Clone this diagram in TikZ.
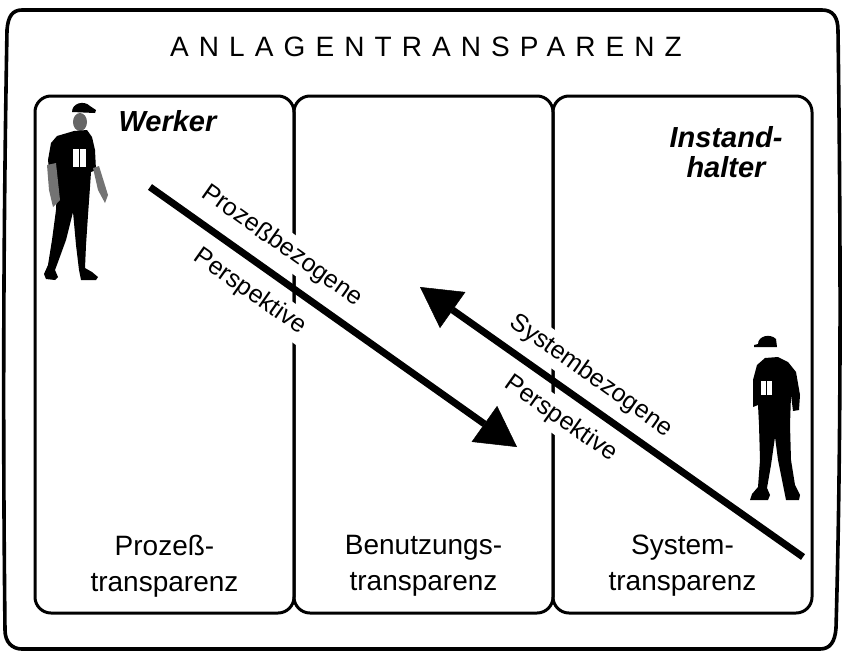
\documentclass[tikz,border=0pt]{standalone}
\usepackage{fontspec}
\setmainfont{Liberation Sans}
\newfontfamily\spacedfont[LetterSpace=36]{Liberation Sans}
\usetikzlibrary{arrows.meta}

\begin{document}
\begin{tikzpicture}[x=1pt, y=-1pt,
    frame/.style={line width=3.6pt, line join=round},
    panel/.style={line width=3pt, rounded corners=16pt},
    persp/.style={line width=7pt, -{Triangle[length=40pt, width=44pt, line width=0.5pt]}},
    lbl/.style={font=\fontsize{28}{36}\selectfont, align=center},
    slant/.style={font=\fontsize{25}{28}\selectfont, rotate=-35.3, fill=white, inner sep=5pt},
    role/.style={font=\fontsize{29}{30}\selectfont\bfseries\itshape, align=center}]
  \useasboundingbox (0,0) rectangle (842,651);
  % outer frame, sides a little bowed
  \draw[frame] (22,10) -- (822,10) .. controls (833,10) and (838,17) .. (838,31)
    .. controls (841,250) and (841,450) .. (836,628) .. controls (835,642) and (830,649) .. (820,649)
    -- (22,649) .. controls (12,649) and (5,642) .. (5,630)
    .. controls (3,450) and (3,250) .. (7,30) .. controls (8,17) and (12,10) .. (22,10) -- cycle;
  \node[font=\spacedfont\fontsize{28}{30}\selectfont, anchor=base] (title) at (426,56) {ANLAGENTRANSPARENZ};
  % the three columns
  \draw[panel] (35,96) rectangle (294,613);
  \draw[panel] (294,96) rectangle (553,613);
  \draw[panel] (553,96) rectangle (812,613);
  \node[lbl] (proz) at (164.5,566) {Prozeß-\\transparenz};
  \node[lbl] (benutz) at (423.5,566) {Benutzungs-\\transparenz};
  \node[lbl] (syst) at (682.5,566) {System-\\transparenz};
  \node[role, anchor=base west] (werker) at (115,131) {Werker};
  \node[role] (instand) at (726,152) {Instand-\\halter};
  % labels along the arrows
  \node[slant] (proztop) at (282,246) {Prozeßbezogene};
  \node[slant] (prozbot) at (250,292) {Perspektive};
  \node[slant] (systop) at (591,376) {Systembezogene};
  \node[slant] (sysbot) at (561,419) {Perspektive};
  \coordinate (proz tail) at (150,187);
  \coordinate (proz tip) at (517,447);
  \coordinate (sys tail) at (803,557);
  \coordinate (sys tip) at (420,287);
  \draw[persp] (proz tail) -- (proz tip);
  \draw[persp] (sys tail) -- (sys tip);
  % worker, left column
  \fill (72,112) .. controls (72,103) and (84,100) .. (90,106) -- (96,110) -- (95,113) -- cycle;
  \fill[black!60] (80,122) ellipse (7 and 9);
  \fill (74,131) -- (87,130) -- (92,137) -- (95,150) -- (96,170) -- (91,172) -- (90,187)
    -- (88,215) -- (86,245) -- (85,268) -- (92,272) -- (98,277) -- (96,280) -- (81,280)
    -- (79,270) -- (76,245) -- (73,212) -- (66,240) -- (58,262) -- (55,270) -- (58,277)
    -- (55,280) -- (46,279) -- (44,274) -- (48,265) -- (52,240) -- (56,210) -- (57,188)
    -- (55,176) -- (50,178) -- (48,160) -- (51,143) -- (57,136) -- cycle;
  \fill[black!55] (47,165) -- (56,163) -- (60,200) -- (53,207) -- (49,190) -- cycle;
  \fill[black!55] (93,168) -- (99,166) -- (108,195) -- (105,203) -- (98,190) -- cycle;
  \filldraw[fill=white, line width=0.8pt] (72,148) rectangle (86,167);
  \draw[line width=0.8pt] (79,148) -- (79,167);
  % maintainer, right column
  \fill (754,345) -- (758,344) .. controls (758,336) and (770,333) .. (776,339) -- (777,347) -- (754,347) -- cycle;
  \fill (765,358) -- (778,357) -- (788,362) -- (796,372) -- (800,395) -- (799,410) -- (793,411)
    -- (791,395) -- (790,425) -- (791,460) -- (795,485) -- (800,495) -- (799,500) -- (786,500)
    -- (783,485) -- (778,460) -- (775,437) -- (771,465) -- (767,488) -- (770,495) -- (768,500)
    -- (750,500) -- (752,494) -- (758,487) -- (760,460) -- (759,425) -- (758,405) -- (753,407)
    -- (753,380) -- (757,365) -- cycle;
  \filldraw[fill=white, line width=0.8pt] (760,380) rectangle (772,395);
  \draw[line width=0.8pt] (766,380) -- (766,395);
\end{tikzpicture}
\end{document}
